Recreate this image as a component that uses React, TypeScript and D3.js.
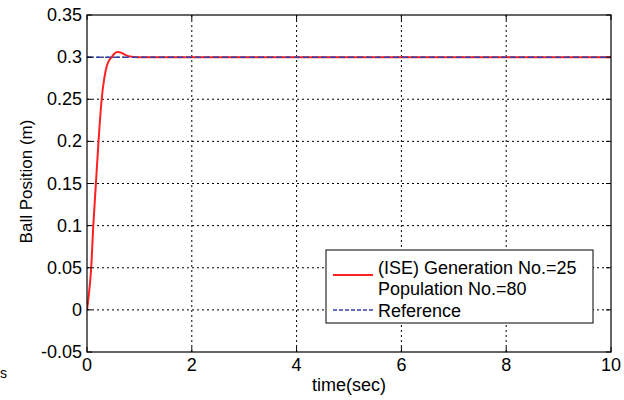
import { useEffect, useRef } from "react";
import * as d3 from "d3";

// step response of the ball position
const timeSec = [0, 0.03, 0.08, 0.12, 0.17, 0.22, 0.28, 0.33, 0.38, 0.43, 0.47, 0.52, 0.59, 0.66, 0.75, 0.85, 0.95, 1.2, 10];
const position = [0, 0.015, 0.05, 0.1, 0.15, 0.2, 0.25, 0.275, 0.29, 0.297, 0.3, 0.304, 0.306, 0.305, 0.302, 0.3005, 0.3, 0.3, 0.3];
const referenceT = [0, 10];
const referenceY = [0.3, 0.3];
const xTicks = [0, 2, 4, 6, 8, 10];
const yTicks = [-0.05, 0, 0.05, 0.1, 0.15, 0.2, 0.25, 0.3, 0.35];
const legendLines = ["(ISE) Generation No.=25", "Population No.=80", "Reference"];

export default function App() {
  const ref = useRef<SVGSVGElement>(null);

  useEffect(() => {
    const svg = d3.select(ref.current);
    const width = 624;
    const height = 400;
    const margin = { top: 15, right: 13, bottom: 48, left: 87 };
    const font = "Liberation Sans, Arial, sans-serif";

    svg.selectAll("*").remove();
    svg.attr("viewBox", `0 0 ${width} ${height}`);

    const x = d3.scaleLinear().domain([0, 10]).range([margin.left, width - margin.right]);
    const y = d3.scaleLinear().domain([-0.05, 0.35]).range([height - margin.bottom, margin.top]);

    svg.append("rect").attr("width", width).attr("height", height).attr("fill", "#fff");

    // dotted grid
    const grid = svg.append("g").attr("stroke", "#000").attr("stroke-width", 1).attr("stroke-dasharray", "2,3");
    grid
      .selectAll("line.gx")
      .data(xTicks.slice(1, -1))
      .join("line")
      .attr("x1", (d) => x(d))
      .attr("x2", (d) => x(d))
      .attr("y1", y(-0.05))
      .attr("y2", y(0.35));
    grid
      .selectAll("line.gy")
      .data(yTicks.slice(1, -1))
      .join("line")
      .attr("x1", x(0))
      .attr("x2", x(10))
      .attr("y1", (d) => y(d))
      .attr("y2", (d) => y(d));

    svg
      .append("defs")
      .append("clipPath")
      .attr("id", "plotClip")
      .append("rect")
      .attr("x", x(0))
      .attr("y", y(0.35))
      .attr("width", x(10) - x(0))
      .attr("height", y(-0.05) - y(0.35));

    const line = d3
      .line<number>()
      .x((d, i) => x(timeSec[i]))
      .y((d) => y(d))
      .curve(d3.curveMonotoneX);

    svg
      .append("path")
      .datum(position)
      .attr("clip-path", "url(#plotClip)")
      .attr("d", line)
      .attr("fill", "none")
      .attr("stroke", "#ff2020")
      .attr("stroke-width", 2);

    svg
      .append("path")
      .datum(referenceY)
      .attr(
        "d",
        d3
          .line<number>()
          .x((d, i) => x(referenceT[i]))
          .y((d) => y(d))
      )
      .attr("fill", "none")
      .attr("stroke", "#3040b0")
      .attr("stroke-width", 1.5)
      .attr("stroke-dasharray", "6,3");

    // frame
    svg
      .append("rect")
      .attr("x", x(0))
      .attr("y", y(0.35))
      .attr("width", x(10) - x(0))
      .attr("height", y(-0.05) - y(0.35))
      .attr("fill", "none")
      .attr("stroke", "#000")
      .attr("stroke-width", 1.2);

    const tickLen = 5;
    const ticks = svg.append("g").attr("stroke", "#000").attr("stroke-width", 1);
    xTicks.forEach((t) => {
      ticks.append("line").attr("x1", x(t)).attr("x2", x(t)).attr("y1", y(-0.05)).attr("y2", y(-0.05) - tickLen);
      ticks.append("line").attr("x1", x(t)).attr("x2", x(t)).attr("y1", y(0.35)).attr("y2", y(0.35) + tickLen);
    });
    yTicks.forEach((t) => {
      ticks.append("line").attr("x1", x(0)).attr("x2", x(0) + tickLen).attr("y1", y(t)).attr("y2", y(t));
      ticks.append("line").attr("x1", x(10)).attr("x2", x(10) - tickLen).attr("y1", y(t)).attr("y2", y(t));
    });

    svg
      .append("g")
      .selectAll("text")
      .data(xTicks)
      .join("text")
      .attr("x", (d) => x(d))
      .attr("y", y(-0.05) + 19)
      .attr("text-anchor", "middle")
      .attr("font-family", font)
      .attr("font-size", 18)
      .text((d) => d3.format("")(d));

    svg
      .append("g")
      .selectAll("text")
      .data(yTicks)
      .join("text")
      .attr("x", x(0) - 5)
      .attr("y", (d) => y(d) + 6)
      .attr("text-anchor", "end")
      .attr("font-family", font)
      .attr("font-size", 18)
      .text((d) => String(+d.toFixed(2)));

    svg
      .append("text")
      .attr("x", (x(0) + x(10)) / 2)
      .attr("y", 391)
      .attr("text-anchor", "middle")
      .attr("font-family", font)
      .attr("font-size", 18)
      .text("time(sec)");

    svg
      .append("text")
      .attr("transform", `translate(32,${(y(-0.05) + y(0.35)) / 2 - 2}) rotate(-90)`)
      .attr("text-anchor", "middle")
      .attr("font-family", font)
      .attr("font-size", 17)
      .text("Ball Position (m)");

    // stray glyph at the lower left edge of the original image
    svg
      .append("text")
      .attr("x", 0)
      .attr("y", 378)
      .attr("font-family", font)
      .attr("font-size", 14)
      .text("s");

    // legend
    const lg = svg.append("g");
    lg.append("rect")
      .attr("x", 326)
      .attr("y", 250)
      .attr("width", 267)
      .attr("height", 73)
      .attr("fill", "#fff")
      .attr("stroke", "#000")
      .attr("stroke-width", 1);
    lg.append("line").attr("x1", 333).attr("x2", 373).attr("y1", 275).attr("y2", 275).attr("stroke", "#ff2020").attr("stroke-width", 2);
    lg.append("line")
      .attr("x1", 333)
      .attr("x2", 373)
      .attr("y1", 310)
      .attr("y2", 310)
      .attr("stroke", "#3040b0")
      .attr("stroke-width", 1.5)
      .attr("stroke-dasharray", "4,2");
    lg.selectAll("text")
      .data(legendLines)
      .join("text")
      .attr("x", 378)
      .attr("y", (d, i) => [274, 295, 317][i])
      .attr("font-family", font)
      .attr("font-size", 18)
      .text((d) => d);
  }, []);

  return <svg ref={ref} width={624} height={400} style={{ position: "absolute", left: 0, top: 0 }} />;
}
